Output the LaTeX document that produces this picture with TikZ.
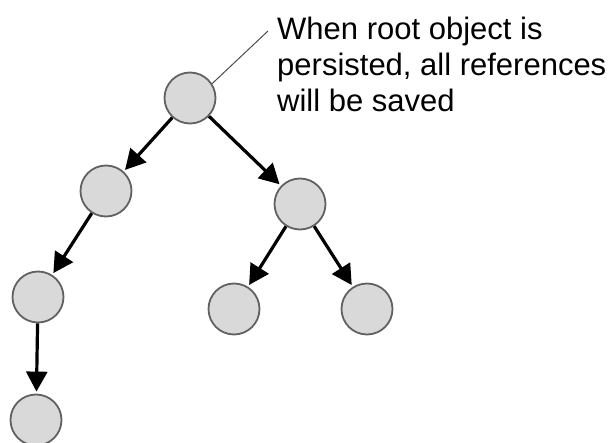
\documentclass[tikz,border=0pt]{standalone}
\usepackage{fontspec}
\setmainfont{Liberation Sans}
\usetikzlibrary{arrows.meta}
\begin{document}
\begin{tikzpicture}[x=1pt,y=-1pt,
  obj/.style={circle,draw=black!62,fill=black!15,line width=1.8pt,minimum size=51pt,inner sep=0pt},
  ref/.style={line width=3.2pt,-{Triangle[length=20pt,width=21pt]},shorten >=2pt},
  lead/.style={line width=1pt,draw=black!70},
  note/.style={font=\fontsize{31}{36}\selectfont,align=left,inner sep=0pt,anchor=base west}]
\useasboundingbox (0,0) rectangle (612,443);
\clip (0,0) rectangle (612,443);
\node[obj] (root) at (190,98) {};
\node[obj] (a) at (106,191) {};
\node[obj] (b) at (300,204) {};
\node[obj] (c) at (38,297) {};
\node[obj] (d) at (234,309) {};
\node[obj] (e) at (367,309) {};
\node[obj] (f) at (36,420) {};
\node[note] (txt) at (277,111.3) {When root object is\\persisted, all references\\will be saved};
\coordinate (tip) at (268,31);
\draw[ref] (root) -- (a);
\draw[ref] (root) -- (b);
\draw[ref] (a) -- (c);
\draw[ref] (c) -- (f);
\draw[ref] (b) -- (d);
\draw[ref] (b) -- (e);
\draw[lead] (root.33) -- (tip);
\end{tikzpicture}
\end{document}
